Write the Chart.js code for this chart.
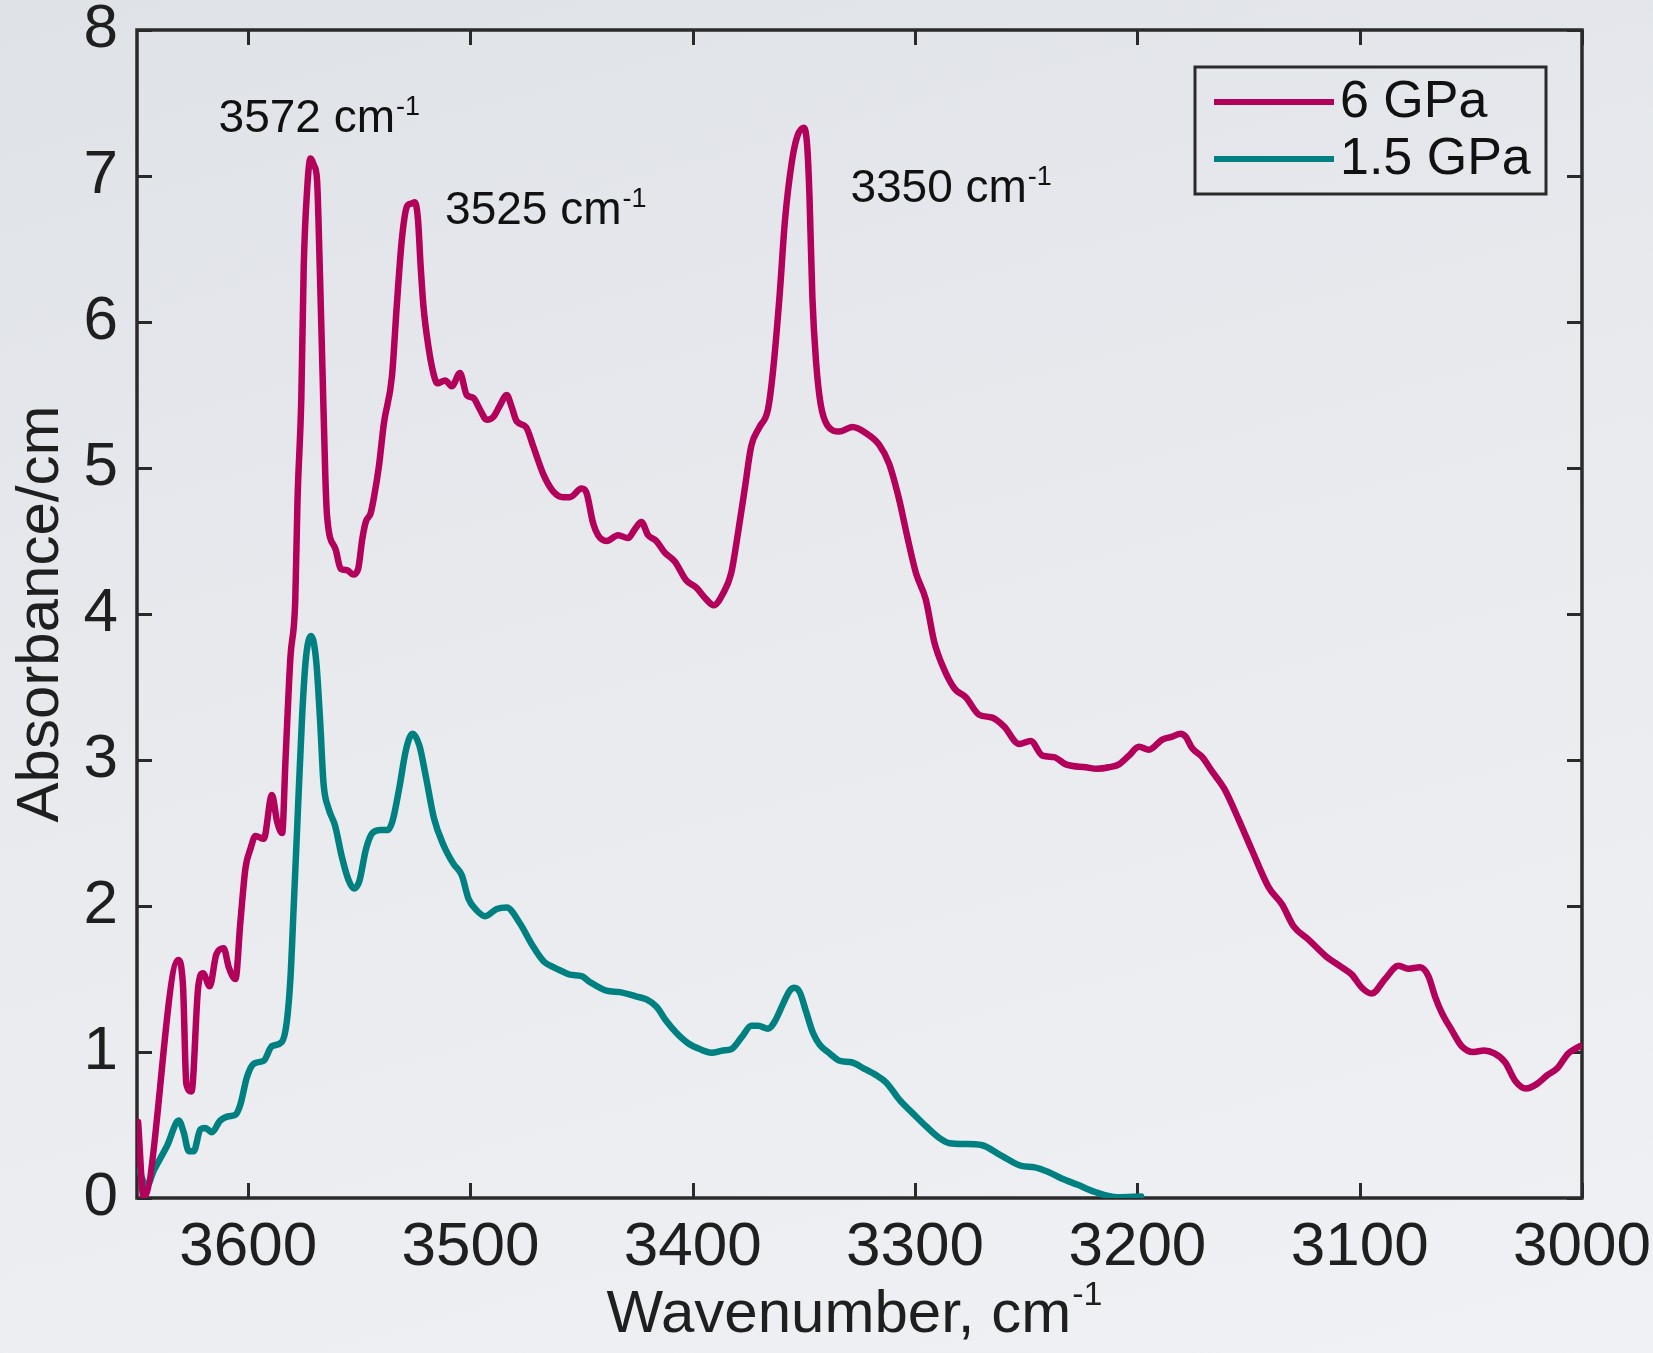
<!DOCTYPE html>
<html>
<head>
<meta charset="utf-8">
<title>OH absorbance spectra</title>
<script src="https://cdn.jsdelivr.net/npm/chart.js@4/dist/chart.umd.min.js"></script>
<style>
  html, body {
    margin: 0; padding: 0; width: 1653px; height: 1353px; overflow: hidden;
    background: linear-gradient(165deg, #dfe2e7 0%, #e8eaee 45%, #f0f1f4 100%);
  }
  canvas { display: block; }
</style>
</head>
<body>
<canvas id="spectra" width="1653" height="1353"></canvas>
<script>
// ---- Spectrum at 6 GPa (wavenumber in cm^-1, absorbance per cm) ----
const wavenumber6 = [
  3649.5, 3647.0, 3631.5, 3629.3, 3627.8, 3625.5, 3622.5, 3620.3, 3617.3, 3614.3,
  3611.0, 3608.7, 3605.7, 3603.5, 3601.2, 3599.0, 3596.7, 3593.0, 3589.3, 3587.0,
  3584.7, 3583.2, 3581.0, 3578.8, 3577.8, 3576.1, 3575.0, 3573.5, 3572.0, 3570.3,
  3569.0, 3567.8, 3566.6, 3565.3, 3564.5, 3560.6, 3558.4, 3555.4, 3552.8, 3550.5,
  3548.7, 3547.1, 3544.9, 3543.4, 3541.2, 3538.9, 3535.3, 3533.2, 3530.9, 3528.6,
  3526.8, 3525.0, 3523.6, 3522.4, 3521.1, 3518.9, 3516.7, 3514.9, 3511.4, 3508.4,
  3504.7, 3501.7, 3498.7, 3495.7, 3492.7, 3489.7, 3486.7, 3483.7, 3481.5, 3479.2,
  3475.0, 3471.8, 3467.3, 3462.8, 3458.3, 3455.3, 3450.0, 3447.8, 3444.8, 3442.6,
  3438.8, 3433.6, 3429.1, 3426.1, 3423.1, 3420.1, 3416.4, 3412.6, 3408.1, 3402.9,
  3398.4, 3393.9, 3390.6, 3386.4, 3382.7, 3379.7, 3376.5, 3373.7, 3370.0, 3366.2,
  3364.0, 3361.0, 3358.5, 3355.5, 3353.0, 3350.0, 3348.5, 3347.5, 3346.2, 3344.5,
  3342.5, 3339.4, 3334.2, 3328.2, 3322.2, 3316.2, 3311.7, 3307.1, 3303.8, 3299.6,
  3295.2, 3291.4, 3287.5, 3282.3, 3277.2, 3271.2, 3265.2, 3260.0, 3253.2, 3248.0,
  3242.7, 3237.5, 3232.2, 3223.2, 3218.1, 3212.8, 3208.3, 3203.8, 3199.3, 3194.8,
  3188.8, 3184.3, 3180.6, 3178.3, 3175.3, 3170.8, 3166.3, 3160.8, 3154.4, 3148.4,
  3141.0, 3134.9, 3129.7, 3123.0, 3115.5, 3108.0, 3103.5, 3099.0, 3094.6, 3088.6,
  3082.6, 3078.1, 3072.8, 3069.1, 3066.1, 3063.1, 3058.6, 3054.1, 3048.8, 3044.1,
  3039.4, 3034.6, 3029.9, 3025.2, 3020.4, 3015.7, 3011.0, 3006.2, 3001.0
];
const absorbance6 = [
  0.52, 0.00, 1.63, 1.45, 0.78, 0.73, 1.44, 1.54, 1.45, 1.67,
  1.71, 1.58, 1.50, 1.89, 2.26, 2.39, 2.48, 2.46, 2.76, 2.58,
  2.50, 3.00, 3.70, 4.10, 4.78, 5.47, 6.38, 6.90, 7.12, 7.07,
  6.97, 6.38, 5.69, 4.95, 4.67, 4.44, 4.31, 4.30, 4.27, 4.31,
  4.51, 4.63, 4.69, 4.80, 5.01, 5.31, 5.63, 6.10, 6.56, 6.79,
  6.81, 6.82, 6.70, 6.38, 6.10, 5.83, 5.65, 5.58, 5.60, 5.56,
  5.65, 5.50, 5.48, 5.40, 5.33, 5.35, 5.43, 5.50, 5.42, 5.32,
  5.28, 5.15, 4.96, 4.84, 4.80, 4.80, 4.86, 4.83, 4.62, 4.54,
  4.50, 4.54, 4.52, 4.58, 4.63, 4.54, 4.50, 4.42, 4.36, 4.23,
  4.18, 4.10, 4.06, 4.14, 4.28, 4.55, 4.87, 5.15, 5.28, 5.40,
  5.65, 6.17, 6.70, 7.09, 7.27, 7.33, 7.20, 6.86, 6.17, 5.72,
  5.44, 5.29, 5.25, 5.28, 5.24, 5.16, 5.03, 4.78, 4.55, 4.28,
  4.10, 3.81, 3.64, 3.49, 3.43, 3.31, 3.29, 3.23, 3.11, 3.13,
  3.03, 3.02, 2.97, 2.95, 2.94, 2.95, 2.97, 3.03, 3.09, 3.07,
  3.14, 3.16, 3.18, 3.16, 3.08, 3.02, 2.92, 2.80, 2.59, 2.38,
  2.13, 2.01, 1.86, 1.77, 1.66, 1.58, 1.53, 1.44, 1.40, 1.50,
  1.59, 1.57, 1.58, 1.52, 1.38, 1.27, 1.15, 1.04, 1.00, 1.01,
  0.99, 0.93, 0.80, 0.75, 0.78, 0.84, 0.89, 0.99, 1.04
];

// ---- Spectrum at 1.5 GPa ----
const wavenumber15 = [
  3649.1, 3645.7, 3642.4, 3636.4, 3631.2, 3629.0, 3626.7, 3624.5, 3621.5, 3619.3,
  3616.3, 3612.6, 3608.7, 3605.7, 3603.5, 3600.5, 3597.5, 3593.0, 3589.3, 3584.8,
  3582.6, 3581.0, 3579.5, 3578.0, 3575.7, 3574.0, 3571.7, 3569.4, 3567.6, 3566.1,
  3563.9, 3560.9, 3557.9, 3554.9, 3552.4, 3550.0, 3547.0, 3544.1, 3540.3, 3537.3,
  3535.1, 3532.0, 3529.0, 3526.1, 3523.0, 3520.1, 3516.4, 3512.2, 3507.7, 3503.9,
  3500.9, 3497.2, 3493.4, 3488.2, 3483.7, 3477.7, 3472.5, 3467.0, 3462.5, 3459.8,
  3455.3, 3450.0, 3446.3, 3438.8, 3432.8, 3425.3, 3420.8, 3416.3, 3411.8, 3407.3,
  3402.1, 3396.9, 3391.6, 3386.4, 3382.6, 3378.1, 3373.6, 3370.6, 3366.1, 3363.1,
  3359.4, 3356.4, 3354.2, 3351.9, 3348.9, 3345.9, 3342.9, 3338.4, 3333.9, 3328.6,
  3323.4, 3317.4, 3312.9, 3306.9, 3301.0, 3295.0, 3289.0, 3284.4, 3277.7, 3270.2,
  3261.2, 3252.2, 3246.2, 3240.3, 3234.3, 3226.8, 3219.3, 3208.8, 3198.3
];
const absorbance15 = [
  0.19, 0.08, 0.19, 0.36, 0.53, 0.45, 0.32, 0.32, 0.47, 0.48,
  0.45, 0.53, 0.56, 0.57, 0.64, 0.83, 0.92, 0.94, 1.04, 1.07,
  1.21, 1.50, 2.00, 2.52, 3.31, 3.70, 3.85, 3.68, 3.26, 2.84,
  2.67, 2.55, 2.34, 2.18, 2.12, 2.17, 2.39, 2.50, 2.52, 2.52,
  2.58, 2.81, 3.07, 3.18, 3.10, 2.89, 2.60, 2.42, 2.29, 2.21,
  2.05, 1.97, 1.93, 1.98, 1.99, 1.88, 1.74, 1.62, 1.58, 1.56,
  1.53, 1.52, 1.48, 1.42, 1.41, 1.38, 1.36, 1.31, 1.21, 1.13,
  1.06, 1.02, 0.995, 1.01, 1.02, 1.10, 1.18, 1.18, 1.16, 1.21,
  1.33, 1.42, 1.44, 1.41, 1.27, 1.13, 1.05, 0.99, 0.94, 0.93,
  0.89, 0.84, 0.79, 0.67, 0.58, 0.49, 0.41, 0.375, 0.37, 0.363,
  0.29, 0.22, 0.21, 0.18, 0.135, 0.09, 0.043, 0.005, 0.01
];

const seriesLabels = ['6 GPa', '1.5 GPa'];
const xTickValues = [3600, 3500, 3400, 3300, 3200, 3100, 3000];
const yTickValues = [0, 1, 2, 3, 4, 5, 6, 7, 8];
const peakWavenumbers = ['3572', '3525', '3350'];

// ---- Styling ----
const FONT = "'Liberation Sans', Arial, Helvetica, sans-serif";
const COLOR_6 = '#b3005a';
const COLOR_15 = '#008080';
const FRAME = '#2a2a2a';
const INK = '#1f1f1f';

// where each peak caption sits, in data units (left edge, baseline)
const peakCaptionAnchors = [
  { x: 3613.3, y: 7.30 },
  { x: 3511.4, y: 6.67 },
  { x: 3329.1, y: 6.82 }
];

function toPoints(xs, ys) {
  return xs.map((x, i) => ({ x: x, y: ys[i] }));
}

// keep the plot box where the layout puts it, regardless of label overhang
function pinScale(s) {
  s.paddingLeft = 0; s.paddingRight = 0; s.paddingTop = 0; s.paddingBottom = 0;
}

// text with a raised superscript, e.g. "cm" + "-1"
function drawSup(ctx, base, sup, x, y, size, supSize, raise, align) {
  ctx.font = size + 'px ' + FONT;
  const wb = ctx.measureText(base).width;
  ctx.font = supSize + 'px ' + FONT;
  const ws = ctx.measureText(sup).width;
  const gap = 1;
  let x0 = x;
  if (align === 'center') x0 = x - (wb + gap + ws) / 2;
  ctx.textAlign = 'left';
  ctx.textBaseline = 'alphabetic';
  ctx.font = size + 'px ' + FONT;
  ctx.fillText(base, x0, y);
  ctx.font = supSize + 'px ' + FONT;
  ctx.fillText(sup, x0 + wb + gap, y - raise);
}

// axes box with inward ticks on all four sides
const framePlugin = {
  id: 'frame',
  beforeDatasetsDraw(chart) {
    const { ctx, chartArea: a, scales: { x, y } } = chart;
    const tick = 15;
    ctx.save();
    ctx.strokeStyle = FRAME;
    ctx.lineWidth = 3;
    ctx.lineCap = 'butt';
    ctx.beginPath();
    xTickValues.forEach(v => {
      const px = Math.round(x.getPixelForValue(v)) + 0.5;
      ctx.moveTo(px, a.bottom); ctx.lineTo(px, a.bottom - tick);
      ctx.moveTo(px, a.top); ctx.lineTo(px, a.top + tick);
    });
    yTickValues.forEach(v => {
      const py = Math.round(y.getPixelForValue(v)) + 0.5;
      ctx.moveTo(a.left, py); ctx.lineTo(a.left + tick, py);
      ctx.moveTo(a.right, py); ctx.lineTo(a.right - tick, py);
    });
    ctx.stroke();
    ctx.lineWidth = 3.5;
    ctx.strokeRect(a.left, a.top, a.right - a.left, a.bottom - a.top);
    ctx.restore();
  }
};

// legend, peak captions and axis titles
const overlayPlugin = {
  id: 'overlay',
  afterDraw(chart) {
    const { ctx, chartArea: a, scales: { x, y } } = chart;
    ctx.save();

    // peak captions
    ctx.fillStyle = '#111';
    peakWavenumbers.forEach((w, i) => {
      const p = peakCaptionAnchors[i];
      drawSup(ctx, w + ' cm', '-1', x.getPixelForValue(p.x), y.getPixelForValue(p.y), 46, 27, 17, 'left');
    });

    // legend box
    const lw = 351, lh = 127;
    const lx = a.right - 36 - lw, ly = a.top + 37;
    ctx.strokeStyle = FRAME;
    ctx.lineWidth = 3;
    ctx.strokeRect(lx, ly, lw, lh);
    const colors = [COLOR_6, COLOR_15];
    seriesLabels.forEach((lab, i) => {
      const cy = ly + 35 + i * 57;
      ctx.strokeStyle = colors[i];
      ctx.lineWidth = 6;
      ctx.beginPath();
      ctx.moveTo(lx + 19, cy); ctx.lineTo(lx + 139, cy);
      ctx.stroke();
      ctx.fillStyle = '#111';
      ctx.font = '52px ' + FONT;
      ctx.textAlign = 'left';
      ctx.textBaseline = 'alphabetic';
      ctx.fillText(lab, lx + 145, cy + 15);
    });

    // x axis title
    ctx.fillStyle = INK;
    drawSup(ctx, 'Wavenumber, cm', '-1', (a.left + a.right) / 2 - 5, 1332, 60, 34, 27, 'center');

    // y axis title
    ctx.save();
    ctx.translate(58, (a.top + a.bottom) / 2);
    ctx.rotate(-Math.PI / 2);
    ctx.font = '60px ' + FONT;
    ctx.textAlign = 'center';
    ctx.textBaseline = 'alphabetic';
    ctx.fillText('Absorbance/cm', 0, 0);
    ctx.restore();

    ctx.restore();
  }
};

new Chart(document.getElementById('spectra'), {
  type: 'line',
  data: {
    datasets: [
      {
        label: seriesLabels[0],
        data: toPoints(wavenumber6, absorbance6),
        borderColor: COLOR_6,
        borderWidth: 6.5,
        pointRadius: 0,
        cubicInterpolationMode: 'monotone',
        borderJoinStyle: 'round',
        borderCapStyle: 'round',
        fill: false
      },
      {
        label: seriesLabels[1],
        data: toPoints(wavenumber15, absorbance15),
        borderColor: COLOR_15,
        borderWidth: 6.5,
        pointRadius: 0,
        cubicInterpolationMode: 'monotone',
        borderJoinStyle: 'round',
        borderCapStyle: 'round',
        fill: false
      }
    ]
  },
  options: {
    responsive: false,
    animation: false,
    devicePixelRatio: 1,
    layout: { padding: { left: 0, top: 30, right: 71, bottom: 0 } },
    plugins: { legend: { display: false }, tooltip: { enabled: false } },
    scales: {
      x: {
        type: 'linear',
        reverse: true,
        min: 3000,
        max: 3650,
        grid: { display: false, drawTicks: false },
        border: { display: false },
        afterBuildTicks: s => { s.ticks = xTickValues.map(v => ({ value: v })); },
        afterFit: s => { s.height = 155; pinScale(s); },
        ticks: {
          autoSkip: false, maxRotation: 0, minRotation: 0, padding: 13,
          callback: v => String(v),
          color: INK, font: { family: FONT, size: 62, lineHeight: 1.2 }
        }
      },
      y: {
        type: 'linear',
        min: 0,
        max: 8,
        grid: { display: false, drawTicks: false },
        border: { display: false },
        afterBuildTicks: s => { s.ticks = yTickValues.map(v => ({ value: v })); },
        afterFit: s => { s.width = 137; pinScale(s); },
        ticks: {
          padding: 19,
          callback: v => String(v),
          color: INK, font: { family: FONT, size: 62, lineHeight: 1.0 }
        }
      }
    }
  },
  plugins: [framePlugin, overlayPlugin]
});
</script>
</body>
</html>
